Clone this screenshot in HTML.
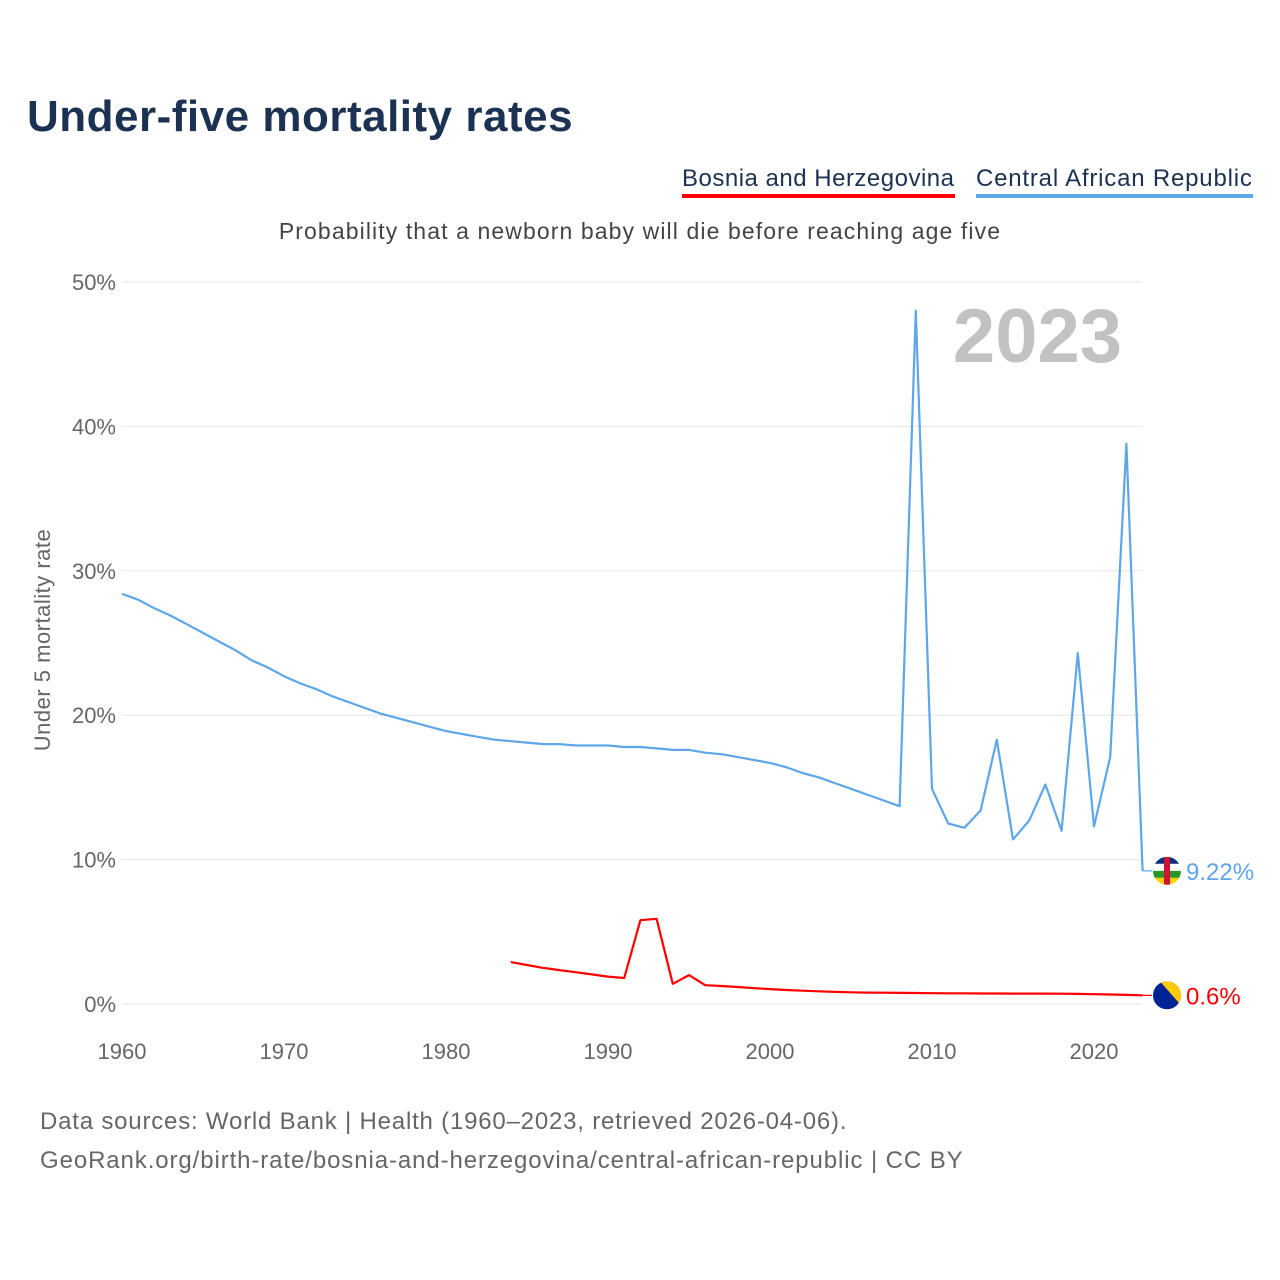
<!DOCTYPE html>
<html><head><meta charset="utf-8"><style>
body{margin:0;background:#fff;font-family:"Liberation Sans",sans-serif;}
#wrap{position:relative;width:1280px;height:1280px;overflow:hidden;}
.t{position:absolute;white-space:nowrap;}
</style></head><body>
<div id="wrap">
<div class="t" style="left:27px;top:92px;font-size:44px;font-weight:bold;color:#1b3252;letter-spacing:0.5px">Under-five mortality rates</div>
<div class="t" style="left:682px;top:165px;font-size:24px;color:#1b3252;border-bottom:4px solid #ff0000;padding-bottom:1px;letter-spacing:0.5px">Bosnia and Herzegovina</div>
<div class="t" style="left:976px;top:165px;font-size:24px;color:#1b3252;border-bottom:4px solid #5ea6ea;padding-bottom:1px;letter-spacing:0.8px">Central African Republic</div>
<div class="t" style="left:0;width:1280px;text-align:center;top:218px;font-size:23px;color:#444;letter-spacing:1.1px">Probability that a newborn baby will die before reaching age five</div>
<div class="t" style="left:40px;top:1108px;font-size:24px;color:#666;letter-spacing:0.8px">Data sources: World Bank | Health (1960–2023, retrieved 2026-04-06).</div>
<div class="t" style="left:40px;top:1147px;font-size:24px;color:#666;letter-spacing:0.9px">GeoRank.org/birth-rate/bosnia-and-herzegovina/central-african-republic | CC BY</div>
<svg id="svg" width="1280" height="1280" style="position:absolute;left:0;top:0"></svg>
</div>
<script>
const carYears=[];for(let y=1960;y<=2023;y++)carYears.push(y);
const carValues=[28.4,28.0,27.4,26.9,26.3,25.7,25.1,24.5,23.8,23.3,22.7,22.2,21.8,21.3,20.9,20.5,20.1,19.8,19.5,19.2,18.9,18.7,18.5,18.3,18.2,18.1,18.0,18.0,17.9,17.9,17.9,17.8,17.8,17.7,17.6,17.6,17.4,17.3,17.1,16.9,16.7,16.4,16.0,15.7,15.3,14.9,14.5,14.1,13.7,48.0,14.9,12.5,12.2,13.4,18.3,11.4,12.7,15.2,12.0,24.3,12.3,17.1,38.8,9.22];
const bihYears=[];for(let y=1984;y<=2023;y++)bihYears.push(y);
const bihValues=[2.9,2.7,2.5,2.35,2.2,2.05,1.9,1.8,5.8,5.9,1.4,2.0,1.3,1.25,1.18,1.1,1.03,0.97,0.92,0.88,0.84,0.81,0.79,0.78,0.77,0.76,0.75,0.74,0.74,0.73,0.73,0.72,0.72,0.72,0.71,0.7,0.68,0.66,0.63,0.6];
const yTicks=[0,10,20,30,40,50];
const xTicks=[1960,1970,1980,1990,2000,2010,2020];
const NS="http://www.w3.org/2000/svg";
const svg=document.getElementById('svg');
const xs=y=>122+(y-1960)*16.2;
const ys=v=>1004-v*14.44;
function mk(tag,attrs){const e=document.createElementNS(NS,tag);for(const k in attrs)e.setAttribute(k,attrs[k]);svg.appendChild(e);return e;}
yTicks.forEach(v=>{
 const l=mk('line',{x1:122,x2:1142,y1:ys(v),y2:ys(v),stroke:'#e6e6e6','stroke-width':1});
 
 
 const t=mk('text',{x:116,y:ys(v)+8,'text-anchor':'end','font-size':22,fill:'#666','font-family':'Liberation Sans'});
 t.textContent=v+'%';
 
 
});
xTicks.forEach(y=>{
 const t=mk('text',{x:xs(y),y:1059,'text-anchor':'middle','font-size':22,fill:'#666','font-family':'Liberation Sans'});
 t.textContent=y;
 
 
});
const yt=mk('text',{x:0,y:0,transform:'translate(50,640) rotate(-90)','text-anchor':'middle','font-size':22,fill:'#666','font-family':'Liberation Sans','letter-spacing':'0.5'});
yt.textContent='Under 5 mortality rate';


const yr=mk('text',{x:1122,y:362,'text-anchor':'end','font-size':76,'font-weight':'bold',fill:'#c2c2c2','font-family':'Liberation Sans'});
yr.textContent='2023';


function line(years,vals,color,name){
 const d=years.map((y,i)=>(i?'L':'M')+xs(y).toFixed(1)+','+ys(vals[i]).toFixed(1)).join('');
 const p=mk('path',{d:d,fill:'none',stroke:color,'stroke-width':2.2,'stroke-linejoin':'round'});
 
 
 const ly=ys(vals[vals.length-1]);
 const c=mk('line',{x1:xs(2023),x2:1152,y1:ly,y2:ly,stroke:color,'stroke-width':1.2});
 
 
 return ly;
}
const ly1=line(carYears,carValues,'#5ea6ea','car-line');
const ly2=line(bihYears,bihValues,'#ff0000','bosnia-line');
const g1=document.createElementNS(NS,'g');svg.appendChild(g1);


g1.innerHTML='<defs><clipPath id="c1"><circle cx="1167" cy="'+ly1+'" r="14"/></clipPath><clipPath id="c2"><circle cx="1167" cy="'+ly2+'" r="14"/></clipPath></defs>'+
'<g clip-path="url(#c1)"><rect x="1153" y="'+(ly1-14)+'" width="28" height="7" fill="#003082"/><rect x="1153" y="'+(ly1-7)+'" width="28" height="7" fill="#fff"/><rect x="1153" y="'+ly1+'" width="28" height="7" fill="#289728"/><rect x="1153" y="'+(ly1+7)+'" width="28" height="7" fill="#ffce00"/><rect x="1164" y="'+(ly1-14)+'" width="6" height="28" fill="#d21034"/></g>'+
'<g clip-path="url(#c2)"><rect x="1153" y="'+(ly2-14)+'" width="28" height="28" fill="#002395"/><polygon points="1160,'+(ly2-14)+' 1181,'+(ly2-14)+' 1181,'+(ly2+10)+'" fill="#fecb00"/></g>';
const v1=mk('text',{x:1186,y:ly1+9,'font-size':24,fill:'#5ea6ea','font-family':'Liberation Sans'});
v1.textContent='9.22%';


const v2=mk('text',{x:1186,y:ly2+9,'font-size':24,fill:'#ff0000','font-family':'Liberation Sans'});
v2.textContent='0.6%';


</script>
</body></html>
